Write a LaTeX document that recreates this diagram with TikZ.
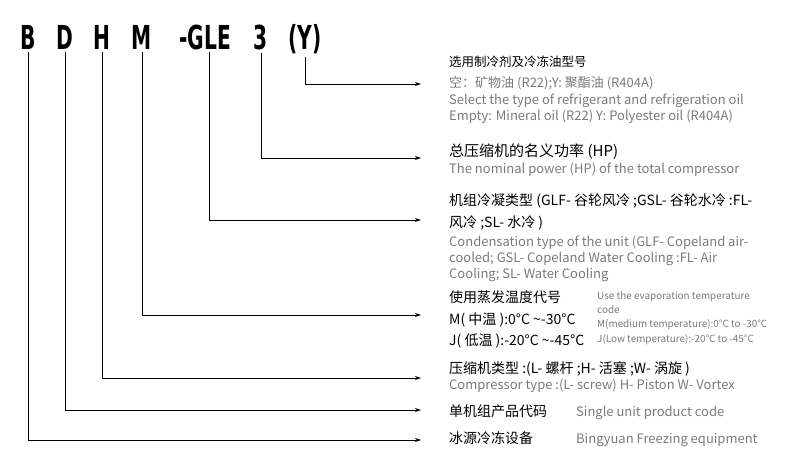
\documentclass[tikz,border=0pt]{standalone}
\usepackage{fontspec}
\setmainfont{Noto Sans CJK SC}
\newfontfamily\codefont[FakeStretch=0.68]{DejaVu Sans Condensed}
\usetikzlibrary{arrows.meta}
\tikzset{>={Stealth[length=6pt,width=4pt]}}
\colorlet{txtgray}{black!52}
\tikzset{
  letter/.style={font=\codefont\bfseries\fontsize{33}{33}\selectfont, anchor=base, inner sep=0pt},
  cn/.style={anchor=base west, inner sep=0pt, font=\fontsize{14}{16}\selectfont},
  en/.style={anchor=base west, inner sep=0pt, text=txtgray, font=\fontsize{13}{15}\selectfont},
  ensmall/.style={anchor=base west, inner sep=0pt, text=txtgray, font=\fontsize{9.9}{11}\selectfont},
  lead/.style={->, line width=0.9pt}
}
\begin{document}
\begin{tikzpicture}[x=1pt, y=-1pt]
  \useasboundingbox (0,0) rectangle (801,468);
  % model code letters
  \node[letter] (lB) at (28,50) {B};
  \node[letter] (lD) at (65,50) {D};
  \node[letter] (lH) at (102,50) {H};
  \node[letter] (lM) at (142,50) {M};
  \node[letter] (lG) at (205,50) {-GLE};
  \node[letter] (l3) at (261,50) {3};
  \node[letter] (lY) at (305,50) {(Y)};

  % arrow ends
  \coordinate (eY) at (421,84);
  \coordinate (e3) at (421,158);
  \coordinate (eG) at (421,220);
  \coordinate (eM) at (421,315);
  \coordinate (eH) at (421,378);
  \coordinate (eD) at (421,410);
  \coordinate (eB) at (421,440);

  \draw[lead] (lY.south) ++(0,2) |- (eY);
  \draw[lead] (l3.south) ++(0,2) |- (e3);
  \draw[lead] (209,52) |- (eG);
  \draw[lead] (lM.south) ++(0,2) |- (eM);
  \draw[lead] (lH.south) ++(0,2) |- (eH);
  \draw[lead] (lD.south) ++(0,2) |- (eD);
  \draw[lead] (lB.south) ++(0,2) |- (eB);

  % texts
  \node[cn, font=\fontsize{12.5}{14}\selectfont] (tY1) at (449,67) {选用制冷剂及冷冻油型号};
  \node[en] (tY2) at (449,88) {空：矿物油 (R22);Y: 聚酯油 (R404A)};
  \node[en] (tY3) at (449,105) {Select the type of refrigerant and refrigeration oil};
  \node[en] (tY4) at (449,121) {Empty: Mineral oil (R22) Y: Polyester oil (R404A)};

  \node[cn, font=\fontsize{15}{17}\selectfont] (t31) at (449,157) {总压缩机的名义功率 (HP)};
  \node[en] (t32) at (449,174) {The nominal power (HP) of the total compressor};

  \node[cn] (tG1) at (449,206) {机组冷凝类型 (GLF- 谷轮风冷 ;GSL- 谷轮水冷 :FL-};
  \node[cn] (tG2) at (449,227) {风冷 ;SL- 水冷 )};
  \node[en] (tG3) at (449,246) {Condensation type of the unit (GLF- Copeland air-};
  \node[en] (tG4) at (449,262) {cooled; GSL- Copeland Water Cooling :FL- Air};
  \node[en] (tG5) at (449,278) {Cooling; SL- Water Cooling};

  \node[cn] (tM1) at (449,302) {使用蒸发温度代号};
  \node[cn] (tM2) at (449,324) {M( 中温 ):0°C \textasciitilde-30°C};
  \node[cn] (tM3) at (449,345) {J( 低温 ):-20°C \textasciitilde-45°C};
  \node[ensmall] (tM4) at (597,299) {Use the evaporation temperature};
  \node[ensmall] (tM5) at (597,313) {code};
  \node[ensmall] (tM6) at (597,327) {M(medium temperature):0°C to -30°C};
  \node[ensmall] (tM7) at (597,342) {J(Low temperature):-20°C to -45°C};

  \node[cn] (tH1) at (449,373) {压缩机类型 :(L- 螺杆 ;H- 活塞 ;W- 涡旋 )};
  \node[en] (tH2) at (449,389) {Compressor type :(L- screw) H- Piston W- Vortex};

  \node[cn] (tD1) at (449,416) {单机组产品代码};
  \node[en] (tD2) at (576,416) {Single unit product code};

  \node[cn] (tB1) at (449,443) {冰源冷冻设备};
  \node[en] (tB2) at (576,443) {Bingyuan Freezing equipment};
\end{tikzpicture}
\end{document}
